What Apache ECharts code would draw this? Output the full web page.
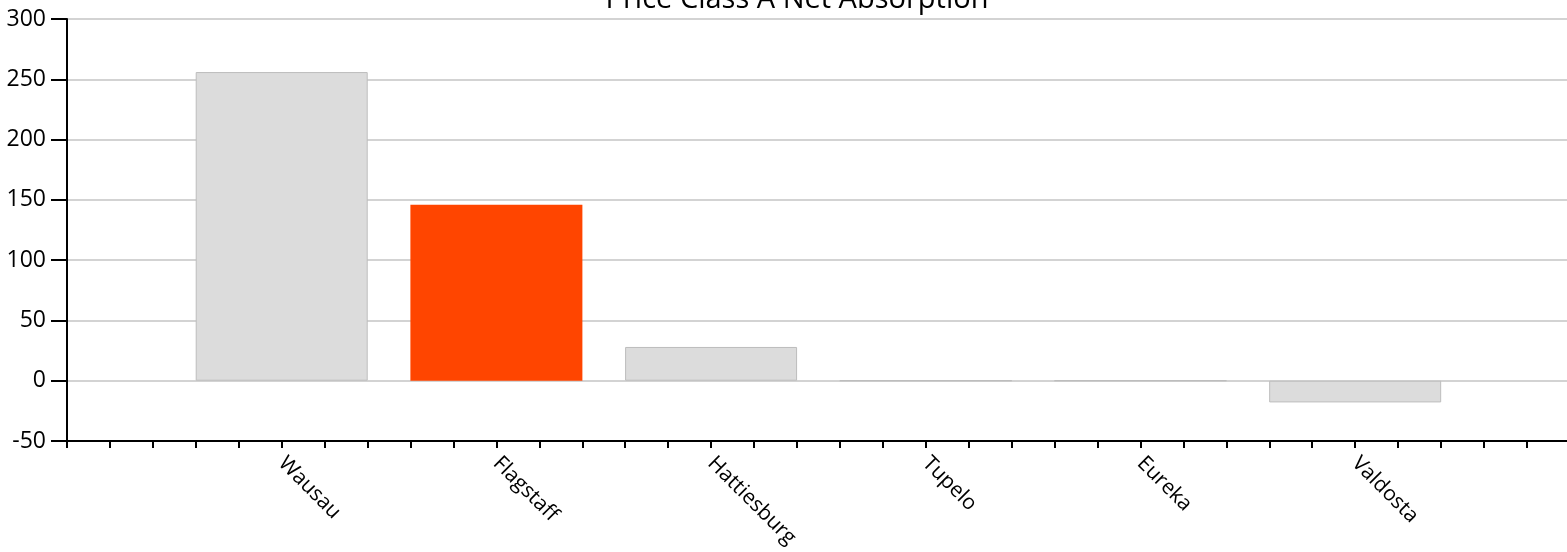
<!DOCTYPE html>
<html>
<head>
<meta charset="UTF-8">
<title>Price Class A Net Absorption</title>
<script type="text/javascript" src="https://cdn.jsdelivr.net/npm/echarts@6/dist/echarts.min.js"></script>
<style>
  html, body { margin: 0; padding: 0; background: #fff; overflow: hidden; }
  /* 比窗口略宽，右端被裁掉一点 */
  #main { width: 1572px; height: 552px; }
</style>
</head>
<body>
<div id="main"></div>
<script type="text/javascript">
// 数据
var cities = ['Wausau', 'Flagstaff', 'Hattiesburg', 'Tupelo', 'Eureka', 'Valdosta'];
var absorption = [256, 146, 28, 0, 0, -18];
var yTicks = [-50, 0, 50, 100, 150, 200, 250, 300];
var highlightCity = 'Flagstaff';

var font = '"Open Sans", "Noto Sans", sans-serif';
var chart = echarts.init(document.getElementById('main'), null, { renderer: 'canvas' });

// x轴用数值轴 0..7，城市放在 1..6 的位置
var points = cities.map(function (c, i) {
  return {
    value: [i + 1, absorption[i]],
    itemStyle: c === highlightCity
      ? { color: '#ff4500', borderColor: '#ff4500', borderWidth: 0 }
      : { color: '#dcdcdc', borderColor: '#bdbdbd', borderWidth: 1 }
  };
});

chart.setOption({
  animation: false,
  title: {
    text: 'Price Class A Net Absorption',
    left: 792,
    top: -20,
    textAlign: 'center',
    textStyle: { fontFamily: font, fontSize: 29, fontWeight: 'normal', color: '#000' }
  },
  grid: { left: 67, right: 0, top: 19, bottom: 111, containLabel: false },
  xAxis: {
    type: 'value',
    min: 0,
    max: cities.length + 1,
    interval: 0.2,
    axisLine: { show: true, onZero: false, lineStyle: { color: '#000', width: 2 } },
    axisTick: { show: true, length: 7, lineStyle: { color: '#000', width: 2 } },
    splitLine: { show: false },
    axisLabel: {
      rotate: -45,
      margin: 19,
      fontFamily: font,
      fontSize: 21,
      color: '#000',
      showMinLabel: true,
      showMaxLabel: true,
      formatter: function (v) {
        var r = Math.round(v);
        if (Math.abs(v - r) > 1e-6) return '';
        return cities[r - 1] || '';
      }
    }
  },
  yAxis: {
    type: 'value',
    min: yTicks[0],
    max: yTicks[yTicks.length - 1],
    interval: 50,
    axisLine: { show: true, lineStyle: { color: '#000', width: 2 } },
    axisTick: { show: true, length: 16, lineStyle: { color: '#000', width: 2 } },
    splitLine: { show: true, lineStyle: { color: '#d3d3d3', width: 2 } },
    axisLabel: { margin: 21, fontFamily: font, fontSize: 23, color: '#000' }
  },
  series: [{
    type: 'bar',
    barWidth: 172,
    data: points
  }]
});
</script>
</body>
</html>
